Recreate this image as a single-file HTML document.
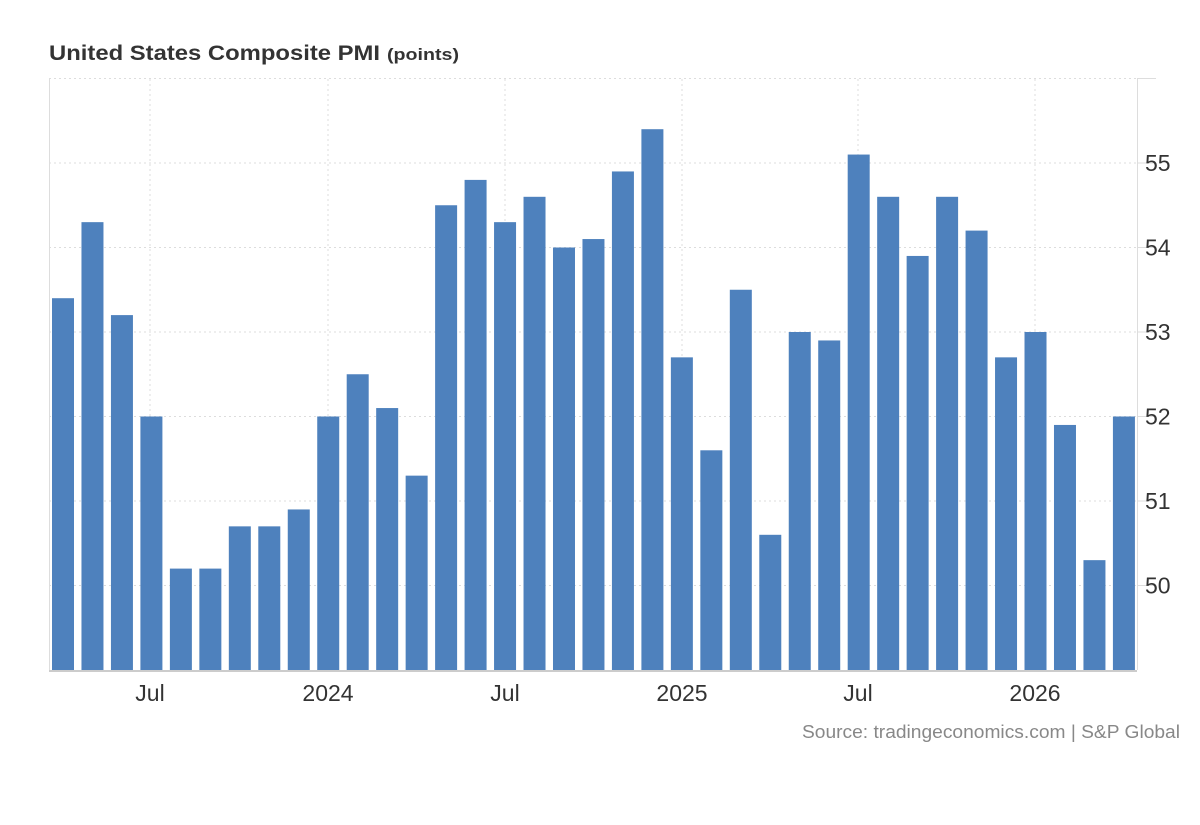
<!DOCTYPE html>
<html><head><meta charset="utf-8"><style>
body{margin:0;background:#fff;}
svg text{font-family:"Liberation Sans",Arial,sans-serif;}
</style></head><body>
<svg width="1200" height="820" xmlns="http://www.w3.org/2000/svg">
<text x="49" y="60" font-size="21" font-weight="bold" fill="#333" textLength="331" lengthAdjust="spacingAndGlyphs">United States Composite PMI</text>
<text x="387" y="60" font-size="17" font-weight="bold" fill="#333" textLength="72" lengthAdjust="spacingAndGlyphs">(points)</text>
<g id="g"></g>
<text x="802" y="738" font-size="18" fill="#888" textLength="378" lengthAdjust="spacingAndGlyphs">Source: tradingeconomics.com | S&amp;P Global</text>
</svg>
<script>
var vals=[53.4,54.3,53.2,52.0,50.2,50.2,50.7,50.7,50.9,52.0,52.5,52.1,51.3,54.5,54.8,54.3,54.6,54.0,54.1,54.9,55.4,52.7,51.6,53.5,50.6,53.0,52.9,55.1,54.6,53.9,54.6,54.2,52.7,53.0,51.9,50.3,52.0];
var g=document.getElementById('g'),s='';
function y(v){return 670-(v-49)*84.5;}
for(var v=50;v<=56;v++){var yy=y(v);s+='<line x1="49" x2="1137" y1="'+yy+'" y2="'+yy+'" stroke="#ddd" stroke-dasharray="2,3"/>';
s+='<line x1="1137" x2="1156" y1="'+yy+'" y2="'+yy+'" stroke="#ddd"/>';
if(v<56)s+='<text x="1145" y="'+(yy+8)+'" font-size="23" fill="#333">'+v+'</text>';}
var xs=[[150,'Jul'],[328,'2024'],[505,'Jul'],[682,'2025'],[858,'Jul'],[1035,'2026']];
xs.forEach(function(a){s+='<line x1="'+a[0]+'" x2="'+a[0]+'" y1="79" y2="670" stroke="#ddd" stroke-dasharray="2,3"/>';
s+='<text x="'+a[0]+'" y="701" font-size="23" fill="#333" text-anchor="middle">'+a[1]+'</text>';});
s+='<line x1="49.5" x2="49.5" y1="79" y2="670" stroke="#ddd"/>';
s+='<line x1="1137.5" x2="1137.5" y1="79" y2="670" stroke="#ddd"/>';
vals.forEach(function(v,i){var x=52+i*29.47;s+='<rect x="'+x+'" y="'+y(v)+'" width="22" height="'+(670-y(v))+'" fill="#4e81bd"/>';});
s+='<line x1="49" x2="1137" y1="671" y2="671" stroke="#ccc" stroke-width="2"/>';
g.innerHTML=s;
</script>
</body></html>
